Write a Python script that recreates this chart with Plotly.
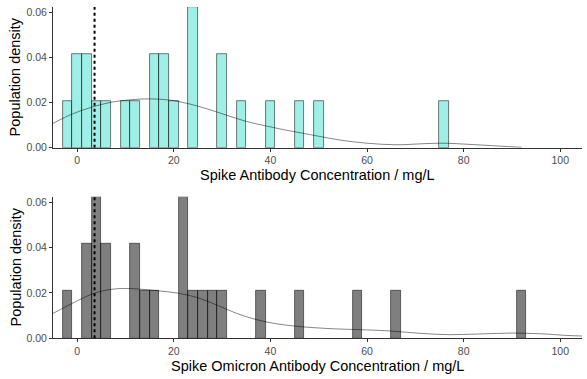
import plotly.graph_objects as go
from plotly.subplots import make_subplots

# ---- data ----
BIN_WIDTH = 2
N_SAMPLES = 24

spike_bin_centers = [-2, 0, 2, 4, 6, 10, 12, 16, 18, 20, 24, 30, 34, 40, 46, 50, 76]
spike_counts      = [ 1, 2, 2, 1, 1,  1,  1,  2,  2,  1,  3,  2,  1,  1,  1,  1,  1]

omicron_bin_centers = [-2, 2, 4, 6, 12, 14, 16, 22, 24, 26, 28, 30, 38, 46, 58, 66, 92]
omicron_counts      = [ 1, 2, 3, 2,  2,  1,  1,  3,  1,  1,  1,  1,  1,  1,  1,  1,  1]

spike_density_x = [-5, -1, 3, 7, 11, 15, 19, 23, 27, 31, 35, 39, 43, 47, 51, 55, 60, 66, 72, 76, 81, 86, 90, 92]
spike_density_y = [0.0108, 0.0150, 0.0180, 0.0202, 0.0213, 0.0217, 0.0212, 0.0196, 0.0172, 0.0144,
                   0.0117, 0.0097, 0.0079, 0.0063, 0.0047, 0.0032, 0.0020, 0.0013, 0.0018, 0.0020,
                   0.0015, 0.0009, 0.0004, 0.0002]

omicron_density_x = [-5, 0, 3.4, 7, 10, 13, 17, 21, 25, 29, 33, 37, 41, 45, 49, 53, 60, 65, 71, 77, 83, 90, 96, 101, 104.5]
omicron_density_y = [0.0110, 0.0165, 0.0198, 0.0216, 0.0220, 0.0217, 0.0209, 0.0199, 0.0179, 0.0146,
                     0.0110, 0.0083, 0.0065, 0.0054, 0.0047, 0.0042, 0.0037, 0.0032, 0.0022, 0.0016,
                     0.0019, 0.0023, 0.0020, 0.0013, 0.0010]

threshold = 3.6

x_tick_vals = [0, 20, 40, 60, 80, 100]
y_tick_vals = [0.00, 0.02, 0.04, 0.06]
y_tick_text = ["0.00", "0.02", "0.04", "0.06"]

x_title_top = "Spike Antibody Concentration / mg/L"
x_title_bottom = "Spike Omicron Antibody Concentration / mg/L"
y_title = "Population density"

# ---- figure ----
fig = make_subplots(rows=2, cols=1)

def dens(counts):
    return [c / (N_SAMPLES * BIN_WIDTH) for c in counts]

panels = [
    (1, spike_bin_centers, spike_counts, "rgba(64,224,208,0.5)", spike_density_x, spike_density_y),
    (2, omicron_bin_centers, omicron_counts, "rgba(0,0,0,0.5)", omicron_density_x, omicron_density_y),
]

for row, centers, counts, fill, dx, dy in panels:
    fig.add_trace(go.Bar(
        x=centers, y=dens(counts), width=BIN_WIDTH,
        marker=dict(color=fill, line=dict(color="rgba(0,0,0,0.65)", width=0.8)),
        showlegend=False, hoverinfo="x+y"), row=row, col=1)
    fig.add_trace(go.Scatter(
        x=dx, y=dy, mode="lines", line=dict(color="rgba(0,0,0,0.6)", width=0.8, shape="spline", smoothing=1),
        showlegend=False), row=row, col=1)
    fig.add_trace(go.Scatter(
        x=[threshold, threshold], y=[0, 0.0625], mode="lines",
        line=dict(color="black", width=2, dash="dot"), showlegend=False), row=row, col=1)

H = 379.0
top_dom = [1 - 147.7 / H, 1 - 7.1 / H]
bot_dom = [1 - 338.3 / H, 1 - 196.7 / H]

axis_common = dict(showgrid=False, zeroline=False, showline=True, linecolor="#333333", linewidth=1,
                   automargin=False,
                   ticks="outside", ticklen=3, tickcolor="#333333", tickwidth=1,
                   tickfont=dict(family="Liberation Sans, Arial, sans-serif", size=10.5, color="#4D4D4D"))

fig.update_layout(
    template="none",
    width=587, height=379,
    margin=dict(l=53, r=5, t=0, b=0, autoexpand=False),
    paper_bgcolor="white", plot_bgcolor="white",
    bargap=0,
    font=dict(family="Liberation Sans, Arial, sans-serif"),
    xaxis=dict(domain=[0, 1], range=[-5, 104.5], tickvals=x_tick_vals, anchor="y", **axis_common),
    yaxis=dict(domain=top_dom, range=[0, 0.0625], tickvals=y_tick_vals, ticktext=y_tick_text, anchor="x", **axis_common),
    xaxis2=dict(domain=[0, 1], range=[-5, 104.5], tickvals=x_tick_vals, anchor="y2", **axis_common),
    yaxis2=dict(domain=bot_dom, range=[0, 0.0625], tickvals=y_tick_vals, ticktext=y_tick_text, anchor="x2", **axis_common),
)

title_font = dict(family="Liberation Sans, Arial, sans-serif", size=14.5, color="black")
fig.add_annotation(text=x_title_top, xref="paper", yref="paper", x=0.5, y=1 - 175 / H,
                   showarrow=False, font=title_font, xanchor="center", yanchor="middle")
fig.add_annotation(text=x_title_bottom, xref="paper", yref="paper", x=0.5, y=1 - 366 / H,
                   showarrow=False, font=title_font, xanchor="center", yanchor="middle")
fig.add_annotation(text=y_title, xref="paper", yref="paper", x=-38 / 529, y=1 - 77.4 / H,
                   showarrow=False, font=title_font, textangle=-90, xanchor="center", yanchor="middle")
fig.add_annotation(text=y_title, xref="paper", yref="paper", x=-38 / 529, y=1 - 267.5 / H,
                   showarrow=False, font=title_font, textangle=-90, xanchor="center", yanchor="middle")

fig.write_html("out.html",
               config={"displayModeBar": False},
               post_script="document.body.style.margin='0px';document.body.style.padding='0px';document.body.style.overflow='hidden';")
